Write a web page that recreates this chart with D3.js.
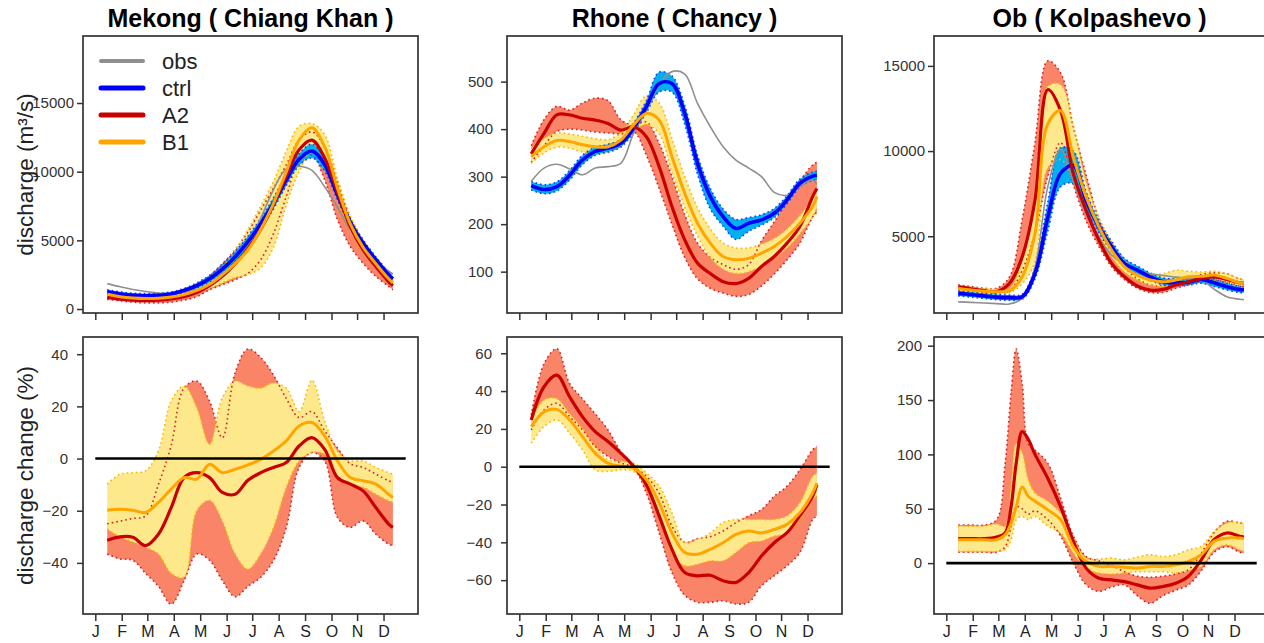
<!DOCTYPE html>
<html>
<head>
<meta charset="utf-8">
<script src="https://cdn.jsdelivr.net/npm/d3@7"></script>
<style>
  body { margin: 0; background: #fff; }
  svg { display: block; }
  text { font-family: "Liberation Sans", Arial, sans-serif; }
</style>
</head>
<body>
<svg id="chart" width="1264" height="643"></svg>
<script>
// day of year of each sample (31-day running mean, so the ends are trimmed)
const days = [15, 30, 45, 60, 75, 90, 105, 120, 135, 150, 165, 180, 195, 210, 225, 240, 255, 270, 285, 300, 315, 330, 345, 350];
// the Ob change panel needs a few extra samples around its spring spike
const obChgDays = [15, 30, 45, 60, 70, 77, 83, 90, 97, 105, 120, 135, 150, 165, 180, 195, 210, 225, 240, 255, 270, 285, 300, 315, 330, 345, 350];

const months = ["J", "F", "M", "A", "M", "J", "J", "A", "S", "O", "N", "D"];
const monthDays = [1, 32, 62, 93, 124, 155, 185, 216, 247, 278, 308, 339];

const legendLabels = ["obs", "ctrl", "A2", "B1"];
const titles = ["Mekong ( Chiang Khan )", "Rhone ( Chancy )", "Ob ( Kolpashevo )"];

// ---- Mekong, discharge (m3/s)
const mekongObs = [1850, 1620, 1420, 1270, 1170, 1120, 1250, 1400, 1700, 2300, 3200, 4600, 6600, 8700, 10200, 10400, 10100, 8900, 7400, 5800, 4500, 3600, 2750, 2550];
const mekongCtrl = [1260, 1100, 1000, 970, 1000, 1100, 1350, 1700, 2200, 2900, 3800, 4900, 6200, 7700, 9400, 10900, 11500, 10500, 8300, 6300, 4800, 3600, 2500, 2200];
const mekongCtrlLo = [1110, 950, 850, 820, 850, 950, 1200, 1500, 1950, 2600, 3450, 4500, 5800, 7300, 9000, 10450, 11000, 10050, 7950, 6050, 4600, 3450, 2350, 2050];
const mekongCtrlHi = [1400, 1250, 1150, 1120, 1150, 1250, 1500, 1900, 2450, 3250, 4200, 5300, 6600, 8100, 9800, 11300, 12000, 11000, 8700, 6600, 5050, 3800, 2700, 2400];
const mekongA2 = [850, 720, 650, 630, 650, 730, 900, 1200, 1700, 2400, 3300, 4400, 5800, 7600, 9700, 11600, 12300, 11000, 8500, 6000, 4300, 3100, 2000, 1700];
const mekongA2Lo = [700, 600, 500, 450, 450, 500, 650, 900, 1400, 1770, 2130, 2600, 3600, 5500, 8200, 10800, 11200, 9400, 6500, 4550, 3340, 2370, 1650, 1400];
const mekongA2Hi = [1000, 850, 780, 770, 800, 900, 1100, 1600, 2400, 3300, 4300, 5600, 7200, 8800, 10500, 12300, 12900, 11800, 9200, 6600, 4800, 3500, 2300, 2000];
const mekongB1 = [1070, 900, 800, 760, 780, 880, 1050, 1350, 1800, 2500, 3300, 4300, 5800, 7700, 10000, 12300, 13200, 11800, 8800, 6200, 4500, 3300, 2200, 1900];
const mekongB1Lo = [920, 760, 660, 620, 640, 720, 880, 1150, 1500, 1900, 2300, 2500, 3000, 4500, 7600, 10000, 11500, 10500, 8000, 5700, 4100, 3000, 1950, 1700];
const mekongB1Hi = [1200, 1050, 950, 920, 950, 1050, 1250, 1700, 2300, 3000, 4300, 5800, 7500, 9300, 11500, 13300, 13500, 12700, 9500, 6800, 5000, 3700, 2600, 2200];

// ---- Rhone, discharge (m3/s)
const rhoneObs = [290, 318, 326, 316, 304, 318, 321, 328, 391, 440, 493, 521, 516, 454, 405, 363, 335, 318, 300, 267, 261, 279, 293, 283];
const rhoneCtrl = [281, 273, 279, 303, 335, 353, 360, 370, 402, 447, 496, 496, 433, 328, 258, 216, 191, 202, 209, 223, 251, 286, 301, 303];
const rhoneCtrlLo = [272, 264, 270, 293, 325, 345, 352, 362, 393, 435, 478, 478, 410, 305, 232, 196, 168, 185, 198, 214, 243, 278, 292, 293];
const rhoneCtrlHi = [290, 283, 289, 313, 345, 362, 368, 378, 412, 460, 520, 512, 450, 345, 275, 232, 210, 214, 220, 233, 260, 295, 310, 311];
const rhoneA2 = [348, 391, 430, 430, 423, 419, 412, 398, 405, 384, 321, 237, 167, 118, 96, 79, 75, 86, 111, 132, 160, 195, 258, 275];
const rhoneA2Lo = [330, 365, 395, 400, 398, 394, 392, 390, 395, 345, 275, 200, 130, 85, 65, 55, 48, 52, 70, 95, 125, 160, 215, 225];
const rhoneA2Hi = [365, 420, 448, 440, 455, 465, 460, 420, 408, 415, 370, 300, 220, 160, 130, 115, 105, 115, 165, 205, 250, 290, 325, 330];
const rhoneB1 = [342, 363, 376, 374, 367, 363, 363, 377, 409, 433, 419, 342, 265, 202, 160, 132, 125, 128, 139, 153, 174, 202, 237, 258];
const rhoneB1Lo = [328, 350, 362, 360, 352, 348, 350, 365, 395, 410, 390, 310, 235, 175, 130, 105, 96, 100, 112, 128, 150, 180, 215, 235];
const rhoneB1Hi = [360, 380, 392, 390, 385, 380, 378, 392, 430, 470, 455, 380, 300, 235, 190, 160, 150, 150, 158, 170, 190, 218, 255, 272];

// ---- Ob, discharge (m3/s)
const obObs = [1150, 1120, 1080, 1050, 1030, 1350, 3200, 7900, 10100, 8200, 6300, 4900, 3900, 3300, 3000, 2800, 2700, 2600, 2550, 2450, 1900, 1450, 1300, 1280];
const obCtrl = [1650, 1580, 1500, 1430, 1400, 1450, 2820, 6100, 8700, 9150, 7100, 5550, 4380, 3400, 3010, 2620, 2330, 2270, 2300, 2470, 2270, 2040, 1880, 1860];
const obCtrlLo = [1500, 1430, 1350, 1280, 1250, 1300, 2500, 5300, 7900, 8100, 6600, 5200, 4100, 3200, 2800, 2420, 2150, 2100, 2130, 2250, 2050, 1850, 1700, 1680];
const obCtrlHi = [1800, 1730, 1650, 1580, 1550, 1600, 3200, 7000, 10200, 10000, 7600, 5900, 4700, 3700, 3250, 2850, 2550, 2500, 2550, 2700, 2500, 2250, 2060, 2040];
const obA2 = [2040, 1920, 1810, 1750, 2230, 3790, 7110, 13600, 12370, 8670, 6520, 4770, 3400, 2620, 2080, 1840, 1880, 2140, 2330, 2530, 2620, 2470, 2270, 2250];
const obA2Lo = [1900, 1800, 1700, 1650, 1800, 3000, 5200, 8500, 10500, 8000, 5900, 4400, 3200, 2450, 1950, 1700, 1700, 1950, 2150, 2350, 2450, 2300, 2100, 2050];
const obA2Hi = [2150, 2050, 1950, 1950, 2600, 6000, 10500, 15300, 14600, 11400, 8600, 6000, 4300, 3200, 2500, 2150, 2100, 2300, 2550, 2750, 2850, 2800, 2500, 2450];
const obB1 = [1940, 1850, 1780, 1750, 1800, 2620, 5160, 11600, 12370, 9640, 7300, 5550, 4180, 3210, 2720, 2430, 2330, 2430, 2620, 2650, 2720, 2530, 2270, 2250];
const obB1Lo = [1800, 1720, 1650, 1620, 1680, 2200, 3500, 9000, 9500, 8300, 6600, 5100, 3800, 2900, 2450, 2150, 2050, 2150, 2350, 2400, 2450, 2300, 2050, 2000];
const obB1Hi = [2080, 1990, 1920, 1890, 1950, 3600, 7500, 13800, 13900, 11500, 8200, 6100, 4600, 3550, 3000, 2750, 2800, 3000, 2950, 2900, 2950, 2800, 2500, 2450];

// ---- discharge change (%)
const mekongChgA2 = [-31.3, -30, -30.2, -33.4, -29, -18.8, -7.3, -5.4, -7.3, -13, -13.7, -8.3, -5.4, -3.4, -1.5, 4.8, 8, 3.5, -7.3, -9.8, -12.4, -18.8, -25.1, -26.4];
const mekongChgA2Lo = [-36.6, -38.5, -39, -44, -49, -55.8, -47, -36.6, -39, -46.8, -53, -49, -45.5, -39, -26.4, -3.4, 2.3, -1, -22.6, -26.4, -23.9, -29, -32.8, -33.4];
const mekongChgA2Hi = [-25, -24, -23, -22, -10, 5, 27, 29.7, 22, 8, 33, 42, 38.7, 32, 23, 15.7, 18, 10.6, 4, -2, -3.4, -6, -8.5, -9];
const mekongChgB1 = [-19.8, -19.4, -19.8, -20.7, -16.8, -11.7, -7.3, -7.9, -2.2, -5.4, -4.1, -2.4, -0.3, 2.9, 6.8, 12.5, 13.8, 8.7, -0.9, -7.3, -8.5, -9.8, -13.7, -14.9];
const mekongChgB1Lo = [-27, -30, -32, -34, -36.6, -44, -45.5, -20, -16, -24, -36.6, -42.4, -36.6, -26.4, -11, -0.9, 2.3, 1.7, -7.3, -10.5, -11, -13.7, -16.2, -16.8];
const mekongChgB1Hi = [-9.8, -6, -5.4, -4.7, 2.9, 22, 27.8, 19.5, 5.5, 23.3, 29.7, 27.8, 27, 29, 27, 18, 30, 14.4, 2.9, -0.9, -0.9, -3.4, -5.4, -6];

const rhoneChgA2 = [24.7, 42.3, 48.4, 37, 26.5, 18.6, 13.3, 7.2, 0.2, -9.5, -26, -43.7, -56, -57.7, -57.4, -60.3, -61.2, -56, -47.2, -40.2, -34.9, -26, -15.6, -9.5];
const rhoneChgA2Lo = [19.5, 30, 33.5, 26.5, 19.5, 10.7, 5.4, 2, -0.7, -14, -35, -56, -68, -71.7, -71.7, -70.9, -72.6, -71.7, -63, -57.7, -52.4, -45.4, -27.9, -26];
const rhoneChgA2Hi = [27.4, 54.5, 62.4, 44, 36, 28, 19.5, 8, 0.2, -5, -14, -31.4, -40, -38, -37, -34, -29.6, -26, -22.6, -15.6, -10.3, -1.6, 9, 10.7];
const rhoneChgB1 = [21.2, 29, 30.3, 24.7, 16, 7.2, 1.9, 0.2, -0.7, -6.8, -19.1, -35, -45.4, -46.3, -43.7, -40.2, -35.8, -34, -35, -33.2, -30.5, -24.4, -13.9, -8.6];
const rhoneChgB1Lo = [12.5, 21.2, 24.7, 17.7, 9, -1.6, -2.5, -1.6, -2.5, -10.3, -24.4, -45.6, -52.4, -51.6, -49.8, -49.8, -45.4, -40.2, -39.3, -36.7, -35, -27.9, -17.4, -15.6];
const rhoneChgB1Hi = [24.7, 35.3, 36, 28, 20.3, 10.7, 3.7, 2.8, 1.9, -3.3, -10.3, -24.4, -40.2, -38.4, -35, -29.6, -27.9, -27.9, -27.9, -27.9, -26, -19, -5, -3.3];

const obChgA2 = [22.5, 22.5, 22.5, 24, 27.7, 52, 92, 121, 114, 100, 78, 52, 20, -4.6, -14, -15.4, -17, -20, -23, -21.5, -18.5, -12, 3, 21.5, 27.7, 24.6, 24];
const obChgA2Lo = [10, 10, 10, 10, 15, 34, 52, 50, 45, 48, 40, 25, 0, -20, -26, -22, -20, -30, -37, -30, -25, -20, -7, 10, 15, 10, 9];
const obChgA2Hi = [35, 35, 35, 40, 92, 157, 197, 165, 110, 104, 92, 60, 25, 6, 2, -2, -8, -12, -13, -12, -10, -6, 9, 28, 38.5, 37, 37];
const obChgB1 = [21.5, 21.5, 21.5, 21.5, 26, 37, 52, 70, 61.5, 57, 49, 40, 15, 1.5, -3, -3, -3.7, -4.6, -3, -3, -1.5, 1.5, 7.7, 20, 23, 23, 22.5];
const obChgB1Lo = [10.8, 10.8, 10.8, 10.8, 12.3, 21.5, 40, 43, 40, 43, 34, 27.7, 9.2, -4.6, -9.2, -10, -9, -8, -8, -8, -9, -7, -3, 12.3, 17, 12.3, 10.8];
const obChgB1Hi = [34, 34, 34, 36, 34, 70.8, 110, 101.5, 77, 64.6, 57, 46, 24.6, 4.6, 3.7, 4.6, 3, 5.5, 7.7, 6, 7.7, 12.3, 15.4, 29, 37, 37.5, 37];

// ---- styles
const col = {
  obs: "#8f8f8f",
  ctrl: "#0000ff", ctrlBand: "#00b0f0", ctrlEdge: "#1a3cff",
  A2: "#c80000", A2Band: "#f98468", A2Edge: "#d4202a",
  B1: "#ffa500", B1Band: "#fde98c", B1Edge: "#f7b800",
};

const svg = d3.select("#chart");
const curve = d3.curveCatmullRom.alpha(0.5);

const colX = [[83, 418], [507, 842], [934, 1269]];
const rowY = [[36, 313], [337, 614]];

const panels = [
  { c: 0, r: 0, dom: [-290, 19880], ticks: [0, 5000, 10000, 15000], gap: 3, x: days,
    obs: mekongObs, ctrl: [mekongCtrlLo, mekongCtrl, mekongCtrlHi],
    A2: [mekongA2Lo, mekongA2, mekongA2Hi], B1: [mekongB1Lo, mekongB1, mekongB1Hi] },
  { c: 1, r: 0, dom: [13, 596], ticks: [100, 200, 300, 400, 500], gap: 8, x: days,
    obs: rhoneObs, ctrl: [rhoneCtrlLo, rhoneCtrl, rhoneCtrlHi],
    A2: [rhoneA2Lo, rhoneA2, rhoneA2Hi], B1: [rhoneB1Lo, rhoneB1, rhoneB1Hi] },
  { c: 2, r: 0, dom: [497, 16754], ticks: [5000, 10000, 15000], gap: 3, x: days,
    obs: obObs, ctrl: [obCtrlLo, obCtrl, obCtrlHi],
    A2: [obA2Lo, obA2, obA2Hi], B1: [obB1Lo, obB1, obB1Hi] },
  { c: 0, r: 1, dom: [-59.6, 46.6], ticks: [-40, -20, 0, 20, 40], gap: 9, x: days, zero: true,
    A2: [mekongChgA2Lo, mekongChgA2, mekongChgA2Hi], B1: [mekongChgB1Lo, mekongChgB1, mekongChgB1Hi] },
  { c: 1, r: 1, dom: [-77.9, 68.6], ticks: [-60, -40, -20, 0, 20, 40, 60], gap: 9, x: days, zero: true,
    A2: [rhoneChgA2Lo, rhoneChgA2, rhoneChgA2Hi], B1: [rhoneChgB1Lo, rhoneChgB1, rhoneChgB1Hi] },
  { c: 2, r: 1, dom: [-46.8, 208], ticks: [0, 50, 100, 150, 200], gap: 6, x: obChgDays, zero: true,
    A2: [obChgA2Lo, obChgA2, obChgA2Hi], B1: [obChgB1Lo, obChgB1, obChgB1Hi] },
];

panels.forEach(drawPanel);

function drawPanel(p, idx) {
  const [left, right] = colX[p.c];
  const [top, bottom] = rowY[p.r];
  const x = d3.scaleLinear().domain([1, 365]).range([left + 12.3, right - 12.3]);
  const y = d3.scaleLinear().domain(p.dom).range([bottom, top]);

  const clipId = "clip" + idx;
  svg.append("clipPath").attr("id", clipId)
    .append("rect").attr("x", left).attr("y", top)
    .attr("width", right - left).attr("height", bottom - top);

  const g = svg.append("g").attr("clip-path", `url(#${clipId})`);

  const band = (s) => d3.area().curve(curve)
    .x((d, i) => x(p.x[i])).y0((d, i) => y(s[0][i])).y1((d, i) => y(s[2][i]))(s[1]);
  const line = (vals) => d3.line().curve(curve)
    .x((d, i) => x(p.x[i])).y((d) => y(d))(vals);

  // bands, drawn opaque, red first, then yellow, then blue
  const groups = [["A2", col.A2Band, col.A2Edge], ["B1", col.B1Band, col.B1Edge]];
  if (p.ctrl) groups.push(["ctrl", col.ctrlBand, col.ctrlEdge]);
  groups.forEach(([k, fill]) => {
    g.append("path").attr("d", band(p[k])).attr("fill", fill);
  });
  // dotted member edges
  groups.forEach(([k, , edge]) => {
    [p[k][0], p[k][2]].forEach((s) => {
      g.append("path").attr("d", line(s)).attr("fill", "none")
        .attr("stroke", edge).attr("stroke-width", 1.6)
        .attr("stroke-dasharray", "1.6,3");
    });
  });

  if (p.zero) {
    svg.append("line")
      .attr("x1", x(1)).attr("x2", x(365))
      .attr("y1", y(0)).attr("y2", y(0))
      .attr("stroke", "#000").attr("stroke-width", 2.6);
  }

  if (p.obs) {
    g.append("path").attr("d", line(p.obs)).attr("fill", "none")
      .attr("stroke", col.obs).attr("stroke-width", 1.6);
  }
  if (p.ctrl) {
    g.append("path").attr("d", line(p.ctrl[1])).attr("fill", "none")
      .attr("stroke", col.ctrl).attr("stroke-width", 3.6);
  }
  g.append("path").attr("d", line(p.A2[1])).attr("fill", "none")
    .attr("stroke", col.A2).attr("stroke-width", 3.2);
  g.append("path").attr("d", line(p.B1[1])).attr("fill", "none")
    .attr("stroke", col.B1).attr("stroke-width", 3);

  // box
  svg.append("rect")
    .attr("x", left).attr("y", top)
    .attr("width", right - left).attr("height", bottom - top)
    .attr("fill", "none").attr("stroke", "#333").attr("stroke-width", 1.7);

  // y axis
  const ya = svg.append("g").attr("transform", `translate(${left},0)`)
    .call(d3.axisLeft(y).tickValues(p.ticks).tickSize(6).tickPadding(p.gap).tickFormat(d3.format("d")));
  ya.select(".domain").remove();
  ya.selectAll("line").attr("stroke", "#333").attr("stroke-width", 1.5);
  ya.selectAll("text").attr("font-size", 15).attr("fill", "#333")
    .attr("font-family", "Liberation Sans, Arial, sans-serif");

  // x axis (month letters only on the bottom row)
  const xa = svg.append("g").attr("transform", `translate(0,${bottom})`)
    .call(d3.axisBottom(x).tickValues(monthDays).tickSize(7).tickPadding(5)
      .tickFormat((d, i) => (p.r === 1 ? months[i] : "")));
  xa.select(".domain").remove();
  xa.selectAll("line").attr("stroke", "#333").attr("stroke-width", 1.5);
  xa.selectAll("text").attr("font-size", 16).attr("fill", "#222")
    .attr("font-family", "Liberation Sans, Arial, sans-serif");

  if (p.r === 0) {
    svg.append("text")
      .attr("x", (left + right) / 2 + (p.c === 2 ? -2 : 0)).attr("y", 27)
      .attr("text-anchor", "middle")
      .attr("font-size", 25).attr("font-weight", "bold").attr("fill", "#000")
      .text(titles[p.c]);
  }
}

// y axis titles
svg.append("text")
  .attr("transform", `translate(33,${(rowY[0][0] + rowY[0][1]) / 2}) rotate(-90)`)
  .attr("text-anchor", "middle").attr("font-size", 22.5).attr("fill", "#222")
  .text("discharge (m³/s)");
svg.append("text")
  .attr("transform", `translate(33,${(rowY[1][0] + rowY[1][1]) / 2}) rotate(-90)`)
  .attr("text-anchor", "middle").attr("font-size", 22.5).attr("fill", "#222")
  .text("discharge change (%)");

// legend in the first panel
const legendColors = [col.obs, col.ctrl, col.A2, col.B1];
const legendWidths = [4, 5, 5, 5];
legendLabels.forEach((lab, i) => {
  const ly = 61 + i * 27;
  svg.append("line").attr("x1", 101).attr("x2", 143).attr("y1", ly).attr("y2", ly)
    .attr("stroke", legendColors[i]).attr("stroke-width", legendWidths[i])
    .attr("stroke-linecap", "round");
  svg.append("text").attr("x", 162).attr("y", ly).attr("dy", "0.36em")
    .attr("font-size", 22).attr("fill", "#222").text(lab);
});
</script>
</body>
</html>
